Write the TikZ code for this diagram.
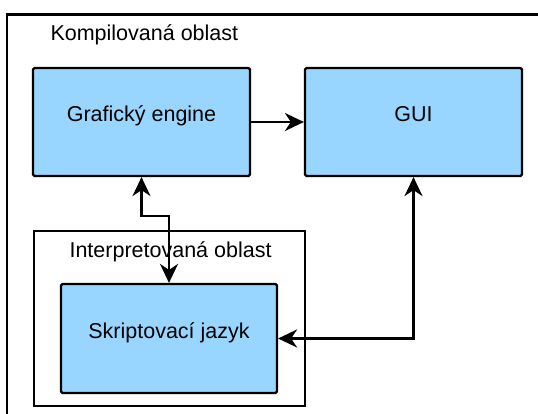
\documentclass[tikz,border=0pt]{standalone}
\usepackage{fontspec}
\setmainfont{Liberation Sans}
\usetikzlibrary{arrows.meta}
\begin{document}
\begin{tikzpicture}[x=1pt, y=-1pt, font=\fontsize{21.5}{26}\selectfont,
		>={Stealth[length=19pt, width=18pt, inset=6pt]},
		block/.style={draw, line width=2.2pt, rounded corners=1.5pt, fill=blue!40!cyan!40, minimum width=217pt, minimum height=108pt, text height=10pt, text depth=10pt, inner sep=0pt},
		region/.style={draw, line width=2.2pt},
		link/.style={line width=2.2pt, ->},
		dlink/.style={line width=2.2pt, <->}]
			\useasboundingbox (0,0) rectangle (538,414);
			\clip (0,0) rectangle (538,414);
			\draw[region] (7,14.5) rectangle (560,440);
			\node[anchor=base west] (komp) at (47,41) {Kompilovaná oblast};
			\draw[region, fill=white] (34,231) rectangle (305,406);
			\node[anchor=base west] (interp) at (66,257) {Interpretovaná oblast};
			\node[block] (gfx) at (141.5,122) {Grafický engine};
			\node[block] (gui) at (413.5,122) {GUI};
			\node[block, minimum width=216pt, minimum height=109pt] (skript) at (169,338.5) {Skriptovací jazyk};
			\draw[link] (gfx) -- (gui);
			\draw[dlink] (gfx.south) -- ++(0,39) -| (skript.north);
			\draw[dlink] (gui.south) |- (skript.east);
	\end{tikzpicture}
\end{document}
